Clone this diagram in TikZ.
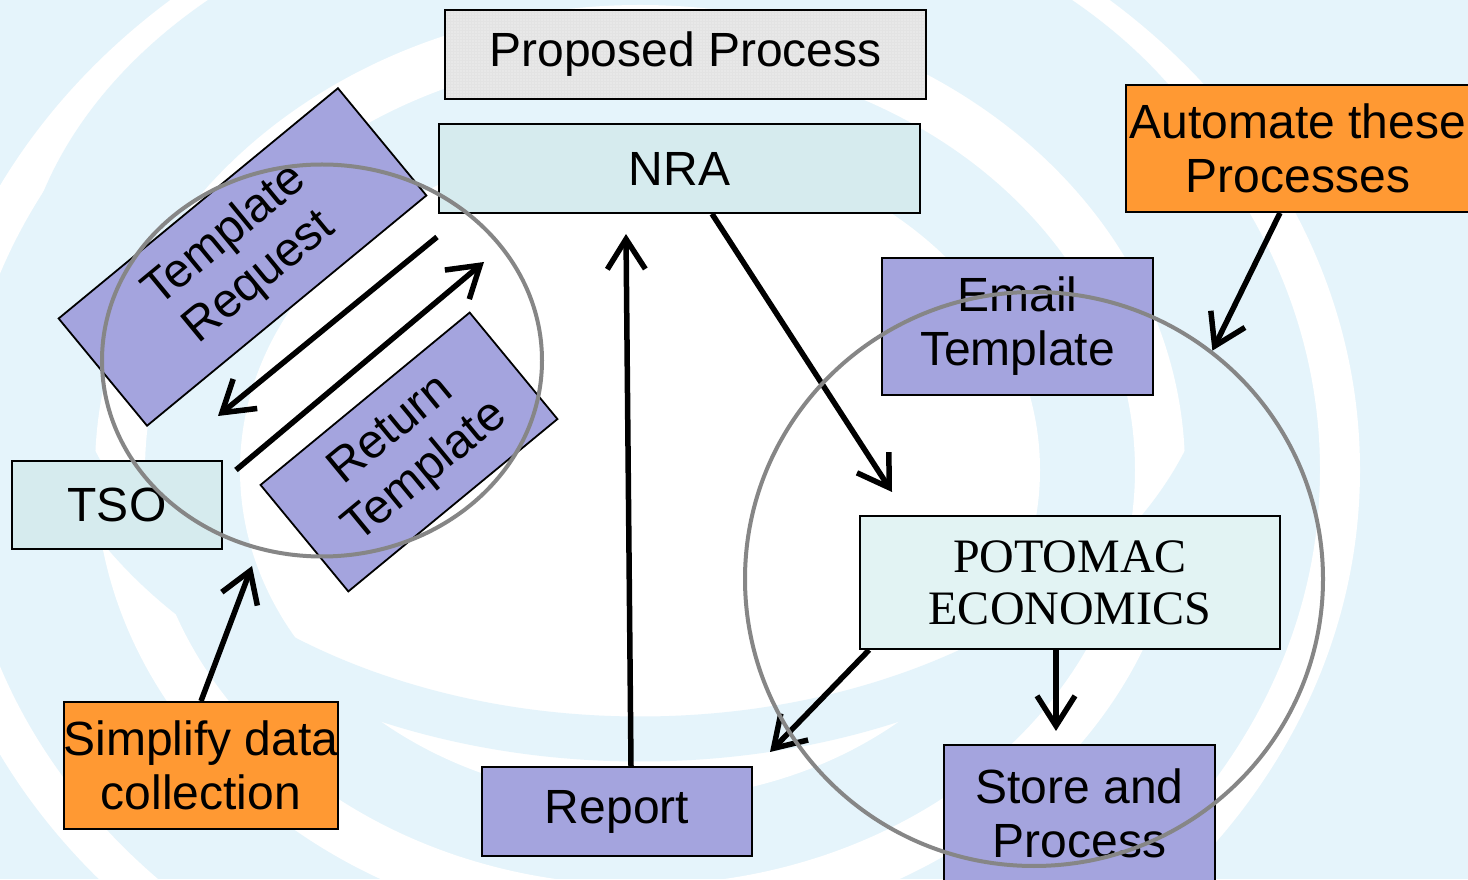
\documentclass[tikz,border=0pt]{standalone}
\usepackage{fontspec}
\setmainfont{Liberation Sans}
\newfontfamily\timesfont{Liberation Serif}
\usetikzlibrary{arrows.meta,patterns,shapes.geometric}
\definecolor{bgblue}{HTML}{E5F4FB}
\definecolor{lav}{HTML}{A4A4DE}
\definecolor{cyanbox}{HTML}{D6EBEE}
\definecolor{cyanlight}{HTML}{E2F3F3}
\definecolor{orng}{HTML}{FF9933}
\definecolor{titlegray}{HTML}{E8E8E8}
\definecolor{ringgray}{HTML}{868686}
\begin{document}
\begin{tikzpicture}[x=1pt,y=1pt,
  box/.style={draw=black,line width=1.8pt,inner sep=0pt,align=center,
    font=\fontsize{48}{54}\selectfont},
  lavbox/.style={box,fill=lav},
  cyanb/.style={box,fill=cyanbox},
  orbox/.style={box,fill=orng},
  arr/.style={line width=5.5pt,-{Straight Barb[length=30pt,width=38pt,line width=5.5pt]}},
  ring/.style={draw=ringgray,line width=4pt,ellipse,inner sep=0pt}
]
\useasboundingbox (0,0) rectangle (1468,879);
\clip (0,0) rectangle (1468,879);
% background swirl
\fill[bgblue] (0,0) rectangle (1468,879);
\fill[white] (640,409) ellipse [x radius=400, y radius=330];
\draw[white,line width=50pt] (640,409) ellipse [x radius=520, y radius=440];
\draw[white,line width=40pt] (640,409) ellipse [x radius=700, y radius=600];
\draw[bgblue,line width=45pt] (640,560) ellipse [x radius=600, y radius=420];

% boxes
\node[box,preaction={fill=titlegray},preaction={pattern=grid,pattern color=gray!22},
  minimum width=481,minimum height=89] (title) at (685.5,824.5) {Proposed Process};
\node[cyanb,minimum width=481,minimum height=89] (nra) at (679.5,710.5) {NRA};
\node[cyanb,minimum width=210,minimum height=88] (tso) at (117,374) {TSO};
\node[lavbox,minimum width=271,minimum height=137] (email) at (1017.5,552.5) {Email\\Template};
\node[box,fill=cyanlight,minimum width=420,minimum height=133,
  font=\timesfont\fontsize{48}{52}\selectfont] (pot) at (1070,296.5) {POTOMAC\\ECONOMICS};
\node[lavbox,minimum width=271,minimum height=137] (store) at (1079.5,65.5) {Store and\\Process};
\node[lavbox,minimum width=270,minimum height=89] (rep) at (617,67.5) {Report};
\node[orbox,minimum width=344,minimum height=127] (aut) at (1298,730.5) {Automate these\\Processes};
\node[orbox,minimum width=270,minimum height=127] (simp) at (201,113.5) {Simplify data\\collection};
\node[lavbox,rotate=39.5,minimum width=362,minimum height=139] (treq) at (242.5,622) {Template\\Request};
\node[lavbox,rotate=39.5,minimum width=271,minimum height=138] (rtemp) at (409,427) {Return\\Template};

% free ends
\coordinate (a1s) at (437,642);
\coordinate (a1e) at (218,463);
\coordinate (a2s) at (236,409);
\coordinate (a2e) at (484,617);
\coordinate (a3e) at (892,387);
\coordinate (a4e) at (626,645);
\coordinate (a5e) at (770,127);
\coordinate (a6e) at (1056,148);
\coordinate (a8e) at (252,313);

% arrows
\draw[arr] (a1s) -- (a1e);
\draw[arr] (a2s) -- (a2e);
\draw[arr] ([xshift=32.5pt]nra.south) -- (a3e);
\draw[arr] ([xshift=14pt]rep.north) -- (a4e);
\draw[arr] ([xshift=10pt]pot.south west) -- (a5e);
\draw[arr] ([xshift=-14pt]pot.south) -- (a6e);
\draw[arr] (simp.north) -- (a8e);

% rings
\node[ring,minimum width=440,minimum height=392] (lring) at (322,518.5) {};
\node[ring,minimum width=578,minimum height=574] (rring) at (1034,300) {};
\draw[arr] ([xshift=-18pt]aut.south) -- (rring.52);
\end{tikzpicture}
\end{document}
